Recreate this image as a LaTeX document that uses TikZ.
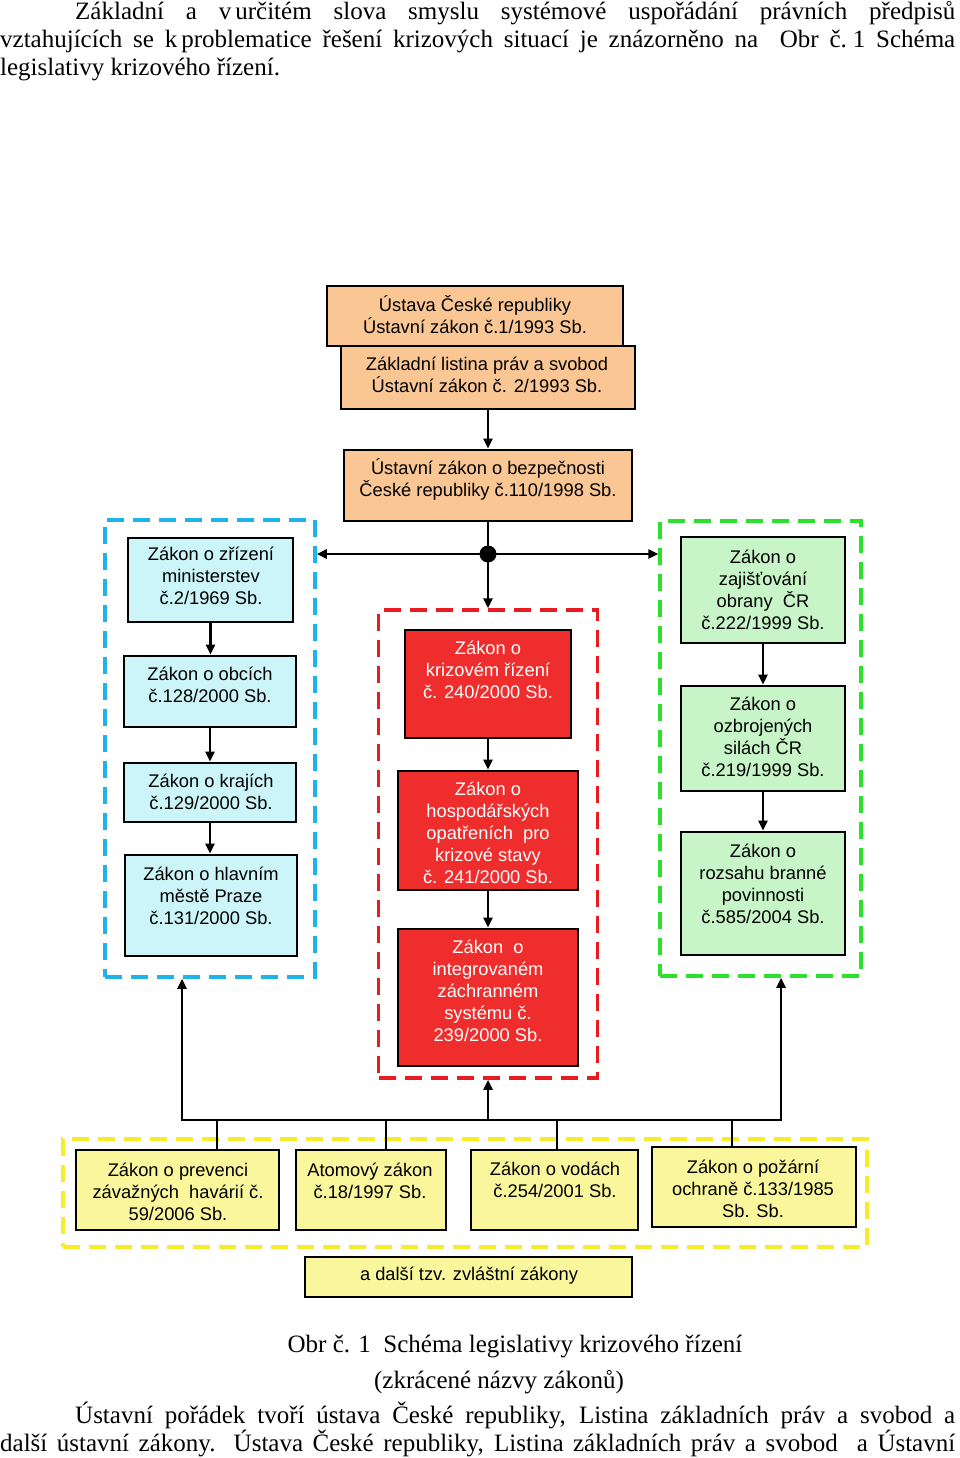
\documentclass[tikz,border=0pt]{standalone}
\usepackage{fontspec}
\setmainfont{Liberation Serif}
\newfontfamily\arialf{Liberation Sans}
\usetikzlibrary{arrows.meta}
\definecolor{peach}{RGB}{250,198,148}
\definecolor{cyanfill}{RGB}{204,245,250}
\definecolor{redfill}{RGB}{240,45,45}
\definecolor{greenfill}{RGB}{200,245,200}
\definecolor{yellowfill}{RGB}{250,246,155}
\definecolor{blueframe}{RGB}{30,180,232}
\definecolor{redframe}{RGB}{232,28,32}
\definecolor{greenframe}{RGB}{46,224,46}
\definecolor{yellowframe}{RGB}{248,236,40}
\tikzset{
  bx/.style={draw=black, line width=2.6pt, rectangle, inner sep=0pt},
  frm/.style={rectangle, line width=3.5pt, inner sep=0pt, dash pattern=on 17pt off 9pt},
  tx/.style={font=\arialf\fontsize{18.3}{22}\selectfont, align=center, inner sep=0pt},
  body/.style={font=\fontsize{25}{28}\selectfont, inner sep=0pt},
  ln/.style={line width=2.4pt, draw=black},
  arr/.style={line width=2.4pt, draw=black, -{Triangle[length=10pt,width=9pt]}},
}
\begin{document}
\begin{tikzpicture}[x=1pt,y=-1pt]
\useasboundingbox (0,0) rectangle (960,1458);
\fill[white] (0,0) rectangle (960,1458);

% body text above
\node[body, anchor=base west] (p1) at (75,20) {\makebox[880pt][s]{Základní a v\kern4pt určitém slova smyslu systémové uspořádání právních předpisů}};
\node[body, anchor=base west] (p2) at (0,48) {\makebox[955pt][s]{vztahujících se k\kern4pt problematice řešení krizových situací je znázorněno na \ Obr č.\kern6pt 1 Schéma}};
\node[body, anchor=base west] (p3) at (0,76) {legislativy krizového řízení.};

% dashed frames
\node[frm, draw=blueframe, minimum width=210, minimum height=457] (bf) at (210,748.5) {};
\node[frm, draw=redframe, minimum width=219, minimum height=468] (rf) at (488,844) {};
\node[frm, draw=greenframe, minimum width=201, minimum height=455] (gf) at (760.5,748.5) {};
\node[frm, draw=yellowframe, minimum width=804, minimum height=108] (yf) at (465,1193) {};

% top boxes
\node[bx, fill=peach, minimum width=296, minimum height=60] (u1) at (475,316) {};
\node[tx] (u1t) at (475,315) {Ústava České republiky\\Ústavní zákon č.1/1993 Sb.};
\node[bx, fill=peach, minimum width=294, minimum height=63] (u2) at (488,377.5) {};
\node[tx] (u2t) at (487,375) {Základní listina práv a svobod\\Ústavní zákon č. 2/1993 Sb.};
\node[bx, fill=peach, minimum width=288, minimum height=71] (u3) at (488,485.5) {};
\node[tx] (u3t) at (488,479) {Ústavní zákon o bezpečnosti\\České republiky č.110/1998 Sb.};

% left column
\node[bx, fill=cyanfill, minimum width=165, minimum height=84] (l1) at (210.5,580) {};
\node[tx] (l1t) at (211,576) {Zákon o zřízení\\ministerstev\\č.2/1969 Sb.};
\node[bx, fill=cyanfill, minimum width=172, minimum height=71] (l2) at (210,691.5) {};
\node[tx] (l2t) at (210,685) {Zákon o obcích\\č.128/2000 Sb.};
\node[bx, fill=cyanfill, minimum width=172, minimum height=59] (l3) at (210,792.5) {};
\node[tx] (l3t) at (211,792) {Zákon o krajích\\č.129/2000 Sb.};
\node[bx, fill=cyanfill, minimum width=172, minimum height=101] (l4) at (211,905.5) {};
\node[tx] (l4t) at (211,896) {Zákon o hlavním\\městě Praze\\č.131/2000 Sb.};

% middle column
\node[bx, fill=redfill, minimum width=166, minimum height=108] (r1) at (488,684) {};
\node[tx, text=white] (r1t) at (488,670) {Zákon o\\krizovém řízení\\č. 240/2000 Sb.};
\node[bx, fill=redfill, minimum width=180, minimum height=119] (r2) at (488,830.5) {};
\node[tx, text=white] (r2t) at (488,833) {Zákon o\\hospodářských\\opatřeních \ pro\\krizové stavy\\č. 241/2000 Sb.};
\node[bx, fill=redfill, minimum width=180, minimum height=137] (r3) at (488,997.5) {};
\node[tx, text=white] (r3t) at (488,991) {Zákon \ o\\integrovaném\\záchranném\\systému č.\\239/2000 Sb.};

% right column
\node[bx, fill=greenfill, minimum width=164, minimum height=106] (g1) at (763,590) {};
\node[tx] (g1t) at (763,590) {Zákon o\\zajišťování\\obrany \ ČR\\č.222/1999 Sb.};
\node[bx, fill=greenfill, minimum width=164, minimum height=105] (g2) at (763,738.5) {};
\node[tx] (g2t) at (763,737) {Zákon o\\ozbrojených\\silách ČR\\č.219/1999 Sb.};
\node[bx, fill=greenfill, minimum width=164, minimum height=123] (g3) at (763,893.5) {};
\node[tx] (g3t) at (763,884) {Zákon o\\rozsahu branné\\povinnosti\\č.585/2004 Sb.};

% bottom row
\node[bx, fill=yellowfill, minimum width=203, minimum height=80] (y1) at (177.5,1190) {};
\node[tx] (y1t) at (178,1192) {Zákon o prevenci\\závažných \ havárií č.\\59/2006 Sb.};
\node[bx, fill=yellowfill, minimum width=150, minimum height=80] (y2) at (371,1190) {};
\node[tx] (y2t) at (370,1181) {Atomový zákon\\č.18/1997 Sb.};
\node[bx, fill=yellowfill, minimum width=167, minimum height=80] (y3) at (554.5,1190) {};
\node[tx] (y3t) at (555,1180) {Zákon o vodách\\č.254/2001 Sb.};
\node[bx, fill=yellowfill, minimum width=204, minimum height=80] (y4) at (754,1187) {};
\node[tx] (y4t) at (753,1189) {Zákon o požární\\ochraně č.133/1985\\Sb. Sb.};
\node[bx, fill=yellowfill, minimum width=327, minimum height=40] (y5) at (468.5,1277) {};
\node[tx] (y5t) at (469,1276) {a další tzv. zvláštní zákony};

% connectors top
\node[circle, fill=black, inner sep=0pt, minimum size=17pt] (dot) at (488,554) {};
\draw[arr] (u2.south) -- (u3.north);
\draw[ln] (u3.south) -- (dot.center);
\draw[arr] (dot.center) -- (dot.center -| bf.east);
\draw[arr] (dot.center) -- (dot.center -| gf.west);
\draw[arr] (dot.center) -- (dot.center |- rf.north);

% column arrows
\draw[arr] (l1.south) -- (l1.south |- l2.north);
\draw[arr] (l2.south) -- (l2.south |- l3.north);
\draw[arr] (l3.south) -- (l3.south |- l4.north);
\draw[arr] (r1.south) -- (r1.south |- r2.north);
\draw[arr] (r2.south) -- (r2.south |- r3.north);
\draw[arr] (g1.south) -- (g1.south |- g2.north);
\draw[arr] (g2.south) -- (g2.south |- g3.north);

% bus
\coordinate (bus) at (488,1120);
\coordinate (busL) at (182,1120);
\coordinate (busR) at (781,1120);
\draw[arr] (bus) -- (bus |- rf.south);
\draw[arr] (bus) -- (busL) -- (busL |- bf.south);
\draw[arr] (bus) -- (busR) -- (busR |- gf.south);
\draw[ln] ([xshift=39.5pt]y1.north) -- ([xshift=39.5pt]y1.north |- bus);
\draw[ln] ([xshift=15pt]y2.north) -- ([xshift=15pt]y2.north |- bus);
\draw[ln] ([xshift=2.5pt]y3.north) -- ([xshift=2.5pt]y3.north |- bus);
\draw[ln] ([xshift=-22pt]y4.north) -- ([xshift=-22pt]y4.north |- bus);

% caption and text below
\node[body, anchor=base] (cap1) at (515,1352) {Obr č. 1 \ Schéma legislativy krizového řízení};
\node[body, anchor=base] (cap2) at (499,1388) {(zkrácené názvy zákonů)};
\node[body, anchor=base west] (p4) at (75,1423) {\makebox[880pt][s]{Ústavní pořádek tvoří ústava České republiky, Listina základních práv a svobod a}};
\node[body, anchor=base west] (p5) at (0,1451) {\makebox[955pt][s]{další ústavní zákony. Ústava České republiky, Listina základních práv a svobod \ a Ústavní}};
\end{tikzpicture}
\end{document}
